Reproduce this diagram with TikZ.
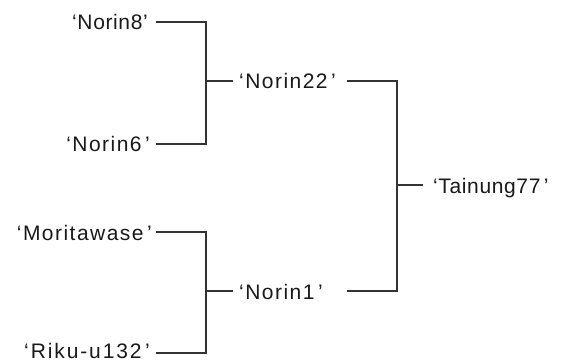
\documentclass[tikz,border=0pt]{standalone}
\usepackage{fontspec}
\setmainfont{Liberation Sans}[LetterSpace=3]
\usetikzlibrary{calc}
\newcommand{\spaced}[1]{\addfontfeatures{LetterSpace=#1}}
\begin{document}
\begin{tikzpicture}[x=1pt,y=1pt,
  lbl/.style={inner sep=0pt, font=\fontsize{21}{24}\selectfont, text=black!90},
  link/.style={line width=1.4pt, draw=black!80},
  ]
\useasboundingbox (0,0) rectangle (562,362);
% pedigree labels
\node[lbl, anchor=base east] (n8)  at (148,332) {‘Norin8’};
\node[lbl, anchor=base east] (n6)  at (150,210) {\spaced{7}‘Norin6\,’};
\node[lbl, anchor=base east] (mw)  at (152,122) {\spaced{7}‘Moritawase\,’};
\node[lbl, anchor=base east] (rk)  at (150,4)   {\spaced{9}‘Riku-u132\,’};
\node[lbl, anchor=base west] (n22) at (239,273) {\spaced{7}‘Norin22\,’};
\node[lbl, anchor=base west] (n1)  at (239,63)  {\spaced{7}‘Norin1\,’};
\node[lbl, anchor=base west] (t77) at (433,169) {‘Tainung77\,’};
% connector ends beside the labels
\coordinate (e8)  at ($(n8.base east)+(8,8)$);
\coordinate (e6)  at ($(n6.base east)+(6,8)$);
\coordinate (emw) at ($(mw.base east)+(4,8)$);
\coordinate (erk) at ($(rk.base east)+(6,5)$);
\coordinate (w22) at ($(n22.base west)+(-6,8)$);
\coordinate (e22) at ($(n22.base west)+(108,8)$);
\coordinate (w1)  at ($(n1.base west)+(-6,8)$);
\coordinate (e1)  at ($(n1.base west)+(108,8)$);
\coordinate (w77) at ($(t77.base west)+(-10,8)$);
% junction points
\coordinate (ja) at (206,281);
\coordinate (jb) at (206,71);
\coordinate (jc) at (397,177);
% brackets
\draw[link] (e8) -| (ja) |- (e6);
\draw[link] (ja) -- (w22 |- ja);
\draw[link] (emw) -| (jb) |- (erk);
\draw[link] (jb) -- (w1 |- jb);
\draw[link] (e22) -| (jc) |- (e1);
\draw[link] (jc) -- (w77 |- jc);
\end{tikzpicture}
\end{document}
